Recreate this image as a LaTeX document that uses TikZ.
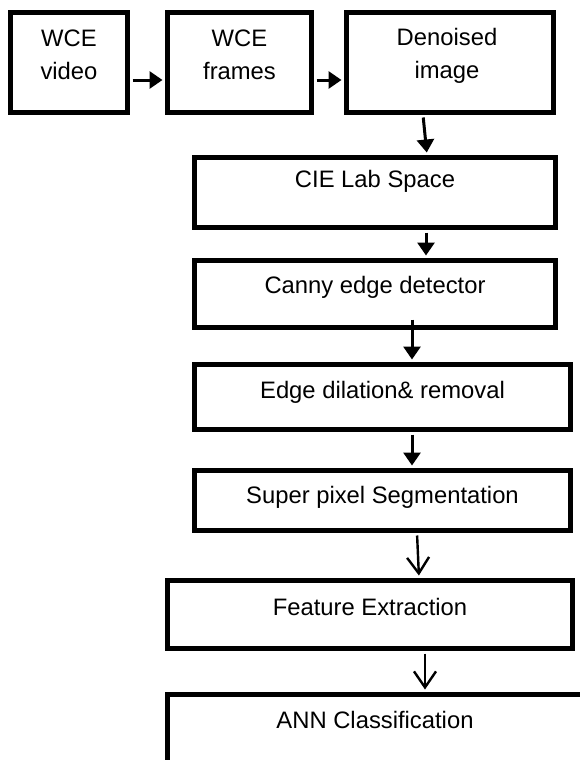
\documentclass[tikz,border=0pt]{standalone}
\usepackage{fontspec}
\setmainfont{Liberation Sans}
\usetikzlibrary{arrows.meta,calc}
\begin{document}
\begin{tikzpicture}[x=1pt,y=-1pt,
  box/.style={draw=black,line width=5pt,inner sep=0pt,fill=white},
  txt/.style={align=center,inner sep=0pt,font=\fontsize{23.8}{33}\selectfont},
  arr/.style={line width=3pt,-{Triangle[length=13pt,width=17pt]}},
  oarr/.style={line width=2.4pt,-{Straight Barb[length=16pt,width=22pt,line width=2.4pt]}}]
\useasboundingbox[fill=white] (0,0) rectangle (579,760);
% boxes (outer edges given, min size = outer - line width)
\node[box,minimum width=117pt,minimum height=100pt] (video) at (69,62.5) {};
\node[box,minimum width=144pt,minimum height=100pt] (frames) at (239.5,62.5) {};
\node[box,minimum width=207pt,minimum height=100pt] (denoised) at (450,62.5) {};
\node[box,minimum width=361pt,minimum height=70pt] (cie) at (375,192.5) {};
\node[box,minimum width=361pt,minimum height=67pt] (canny) at (375,294) {};
\node[box,minimum width=376pt,minimum height=65pt] (edge) at (382.5,397) {};
\node[box,minimum width=376pt,minimum height=60pt] (super) at (382.5,500.5) {};
\node[box,minimum width=405pt,minimum height=68pt] (feature) at (370,614.5) {};
\node[box,minimum width=420pt,minimum height=100pt] (ann) at (377.5,744.5) {};
% texts
\node[txt] (tvideo) at (69,55) {WCE\\video};
\node[txt] (tframes) at (239.5,55) {WCE\\frames};
\node[txt] (tdenoised) at (447,56) {Denoised\\image};
\node[txt] (tcie) at (375,181) {CIE Lab Space};
\node[txt] (tcanny) at (375,287) {Canny edge detector};
\node[txt] (tedge) at (382.5,392) {Edge dilation\& removal};
\node[txt] (tsuper) at (382.5,497) {Super pixel Segmentation};
\node[txt] (tfeature) at (370,607) {Feature Extraction};
\node[txt] (tann) at (375,720) {ANN Classification};
% connectors
\draw[arr,shorten <=2.5pt,shorten >=2.5pt] ([yshift=-17.5pt]video.east) -- ([yshift=-17.5pt]frames.west);
\draw[arr,shorten <=2.5pt,shorten >=2.5pt] ([yshift=-17.5pt]frames.east) -- ([yshift=-17.5pt]denoised.west);
\draw[arr,shorten <=2.5pt,shorten >=2.5pt] ([xshift=-27pt]denoised.south) -- ([xshift=52pt]cie.north);
\draw[arr,shorten <=2.5pt,shorten >=2.5pt] ([xshift=51pt]cie.south) -- ([xshift=51pt]canny.north);
\draw[arr,shorten >=2.5pt] ([xshift=37pt,yshift=10.5pt]canny.south) -- ([xshift=29.5pt]edge.north);
\draw[arr,shorten <=2.5pt,shorten >=2.5pt] ([xshift=29.5pt]edge.south) -- ([xshift=29.5pt]super.north);
\draw[oarr,shorten <=2.5pt,shorten >=2.5pt] ([xshift=34.5pt]super.south) -- ([xshift=49pt]feature.north);
\draw[oarr,shorten <=2.5pt,shorten >=2.5pt] ([xshift=55pt]feature.south) -- ([xshift=47.5pt]ann.north);
\end{tikzpicture}
\end{document}
